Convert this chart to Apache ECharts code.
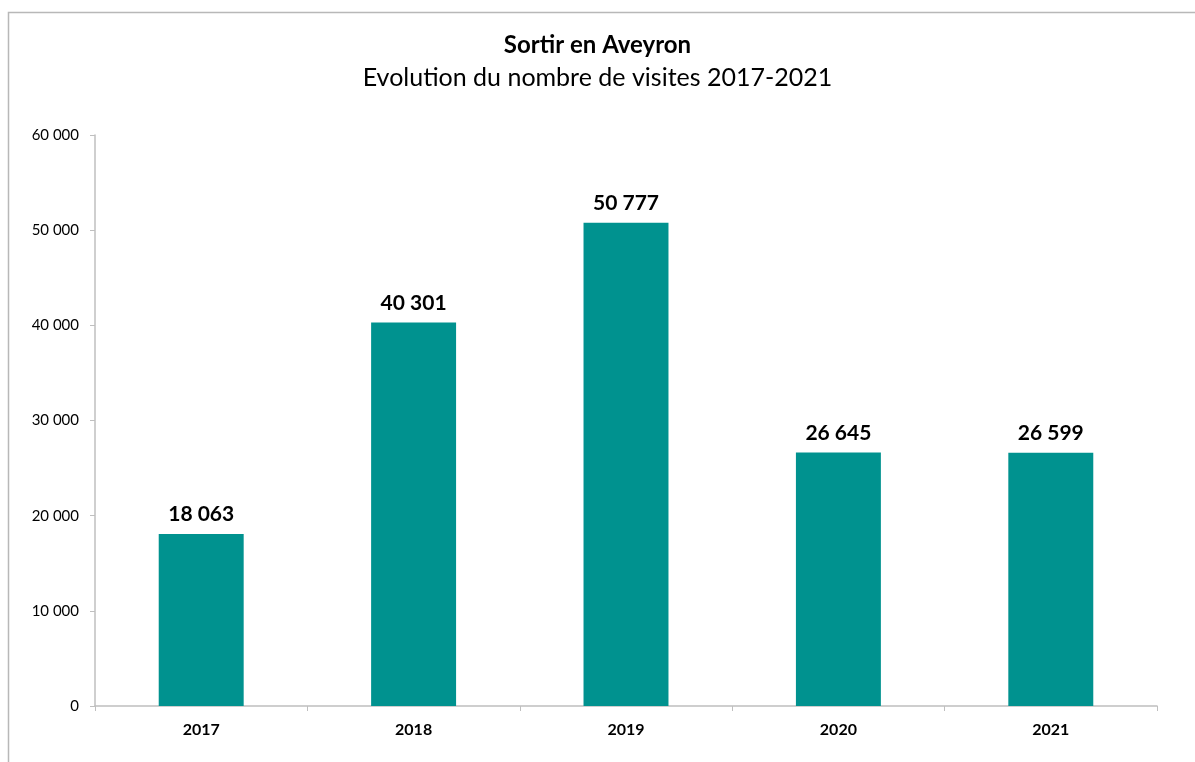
<!DOCTYPE html>
<html>
<head>
<meta charset="utf-8">
<script src="https://cdn.jsdelivr.net/npm/echarts@6/dist/echarts.min.js"></script>
<style>html,body{margin:0;padding:0;background:#fff}#c{width:1195px;height:762px}</style>
</head>
<body>
<div id="c"></div>
<script>
const titleText = 'Sortir en Aveyron';
const subtitleText = 'Evolution du nombre de visites 2017-2021';
const years = ['2017', '2018', '2019', '2020', '2021'];
const visits = [18063, 40301, 50777, 26645, 26599];
const yMin = 0, yMax = 60000, yStep = 10000;

function fmt(v) {
  return String(v).replace(/\B(?=(\d{3})+(?!\d))/g, ' ');
}
const FONT = 'Lato, "Open Sans", sans-serif';
const chart = echarts.init(document.getElementById('c'));
chart.setOption({
  animation: false,
  backgroundColor: '#fff',
  graphic: [{
    type: 'polyline',
    shape: { points: [[8.5, 770], [8.5, 12.5], [1200, 12.5]] },
    style: { stroke: '#b8b8b8', lineWidth: 1.5, fill: null }
  }],
  title: {
    text: titleText,
    subtext: subtitleText,
    left: 'center',
    top: 28,
    itemGap: 8,
    textStyle: { fontFamily: FONT, fontSize: 24, fontWeight: 'bold', color: '#000' },
    subtextStyle: { fontFamily: FONT, fontSize: 25, color: '#000' }
  },
  grid: { left: 95, right: 38, top: 135, bottom: 56, containLabel: false },
  xAxis: {
    type: 'category',
    data: years,
    boundaryGap: true,
    axisLine: { lineStyle: { color: '#bfbfbf', width: 1.5 } },
    axisTick: { show: true, length: 5, alignWithLabel: false, lineStyle: { color: '#bfbfbf' } },
    axisLabel: { margin: 16, fontFamily: FONT, fontSize: 16, fontWeight: 'bold', color: '#000' },
    splitLine: { show: false }
  },
  yAxis: {
    type: 'value',
    min: yMin, max: yMax, interval: yStep,
    axisLine: { show: true, lineStyle: { color: '#bfbfbf', width: 1.5 } },
    axisTick: { show: true, length: 5, lineStyle: { color: '#bfbfbf' } },
    axisLabel: { margin: 16, fontFamily: FONT, fontSize: 15, color: '#000', formatter: fmt },
    splitLine: { show: false }
  },
  series: [{
    type: 'bar',
    data: visits,
    barWidth: '40%',
    itemStyle: { color: '#00928f' },
    label: {
      show: true, position: 'top', distance: 9,
      fontFamily: FONT, fontSize: 21, fontWeight: 'bold', color: '#000',
      formatter: p => fmt(p.value)
    }
  }]
});
</script>
</body>
</html>
